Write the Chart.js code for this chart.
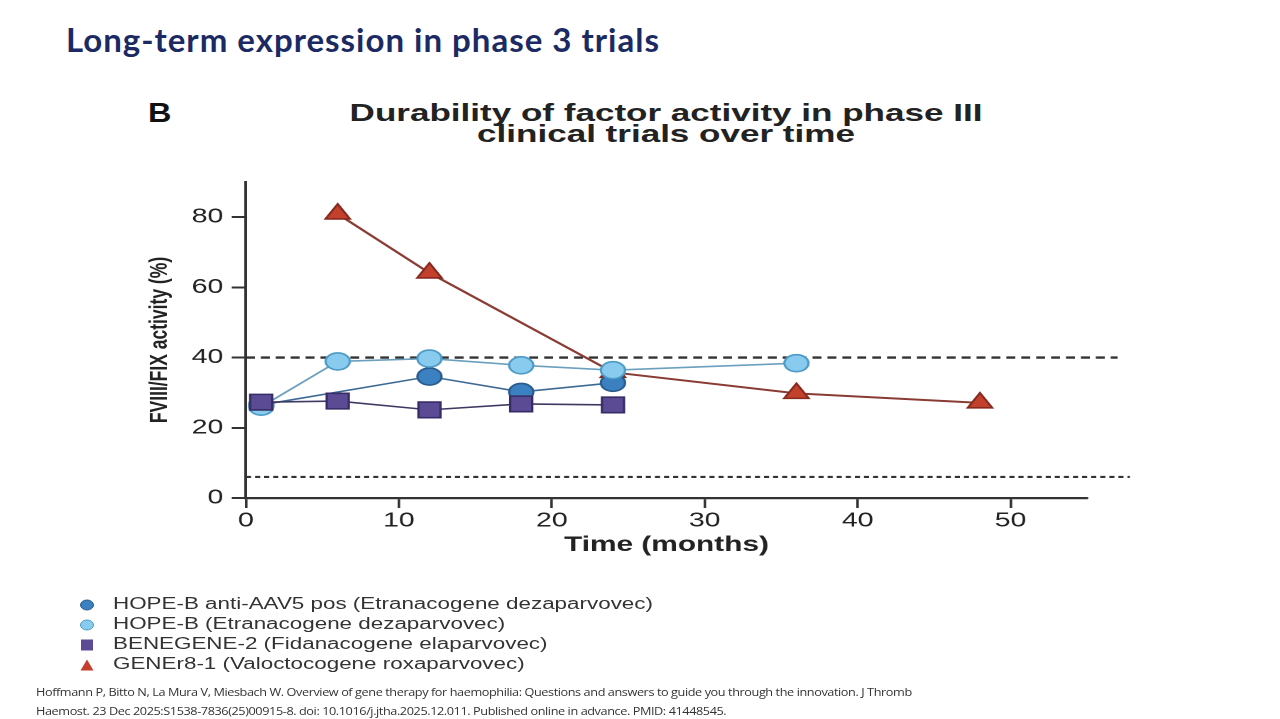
<!DOCTYPE html>
<html>
<head>
<meta charset="utf-8">
<script src="https://cdn.jsdelivr.net/npm/chart.js@4"></script>
<style>
  body { margin: 0; width: 1280px; height: 719px; background: #fff; position: relative; overflow: hidden; font-family: "Liberation Sans", Arial, sans-serif; }
  #slideTitle { position: absolute; left: 66px; top: 19px; font-family: Lato, "Open Sans", sans-serif; font-weight: 700; font-size: 33px; letter-spacing: 1px; color: #1b2a63; white-space: nowrap; }
  #panel { position: absolute; left: 148px; top: 100px; font-weight: 700; font-size: 27px; line-height: 27px; color: #111; transform: scaleX(1.2); transform-origin: left top; }
  #chartTitle { position: absolute; left: 0; width: 1332px; top: 102px; text-align: center; font-weight: 700; font-size: 24px; line-height: 21px; color: #222; transform: scaleX(1.46); transform-origin: 666px 0; }
  /* the source figure is stretched sideways, so the canvas is too */
  #wrap { position: absolute; left: 0; top: 0; width: 901px; height: 719px; transform: scaleX(1.42); transform-origin: left top; }
  #legend { position: absolute; left: 0; top: 593px; font-size: 16px; color: #333; }
  #legend .row { position: relative; height: 20px; width: 700px; }
  #legend .m { position: absolute; left: 80px; top: 4px; }
  #legend .t { position: absolute; left: 113px; top: 1px; line-height: 20px; white-space: nowrap; transform: scaleX(1.4); transform-origin: left top; }
  #cite { position: absolute; left: 36px; top: 683px; font-family: "Open Sans", sans-serif; font-size: 10.5px; line-height: 19px; color: #333; letter-spacing: -0.35px; white-space: nowrap; transform: scaleX(1.21); transform-origin: left top; }
</style>
</head>
<body>
<div id="slideTitle">Long-term expression in phase 3 trials</div>
<div id="panel">B</div>
<div id="chartTitle">Durability of factor activity in phase III<br>clinical trials over time</div>
<div id="wrap"><canvas id="durChart"></canvas></div>
<div id="legend"></div>
<div id="cite">Hoffmann P, Bitto N, La Mura V, Miesbach W. Overview of gene therapy for haemophilia: Questions and answers to guide you through the innovation. J Thromb<br>Haemost. 23 Dec 2025:S1538-7836(25)00915-8. doi: 10.1016/j.jtha.2025.12.011. Published online in advance. PMID: 41448545.</div>
<script>
// months and factor activity (%)
const seriesNames = [
  'HOPE-B anti-AAV5 pos (Etranacogene dezaparvovec)',
  'HOPE-B (Etranacogene dezaparvovec)',
  'BENEGENE-2 (Fidanacogene elaparvovec)',
  'GENEr8-1 (Valoctocogene roxaparvovec)'
];
const hopeAavMonths = [1, 12, 18, 24];
const hopeAavValues = [26.5, 34.6, 30.2, 32.8];
const hopeMonths = [1, 6, 12, 18, 24, 36];
const hopeValues = [26, 38.9, 39.7, 37.8, 36.4, 38.4];
const beneMonths = [1, 6, 12, 18, 24];
const beneValues = [27.3, 27.6, 25.1, 26.8, 26.5];
const generMonths = [6, 12, 24, 36, 48];
const generValues = [80.9, 64.1, 35.8, 29.8, 27.1];
const refLines = [40, 6];
const yTicks = [0, 20, 40, 60, 80];
const xTicks = [0, 10, 20, 30, 40, 50];

const pts = (xs, ys) => xs.map((x, i) => ({ x: x, y: ys[i] }));

const styles = [
  { fill: '#3b80c0', border: '#2a5b8c', line: '#3d6a93', shape: 'circle', r: 8.5 },
  { fill: '#88cbee', border: '#4d9bc6', line: '#6b9fbe', shape: 'circle', r: 8.5 },
  { fill: '#5b4b94', border: '#372c66', line: '#3d3961', shape: 'rect', r: 11 },
  { fill: '#c2402c', border: '#86291f', line: '#8a3b33', shape: 'triangle', r: 10 }
];
const dataSets = [pts(hopeAavMonths, hopeAavValues), pts(hopeMonths, hopeValues), pts(beneMonths, beneValues), pts(generMonths, generValues)];
const orders = [2, 1, 0, 3];

const refPlugin = {
  id: 'refLines',
  beforeDatasetsDraw(chart) {
    const c = chart.ctx, xs = chart.scales.x, ys = chart.scales.y;
    c.save();
    c.strokeStyle = '#333';
    refLines.forEach((v, i) => {
      const y = ys.getPixelForValue(v);
      c.lineWidth = i === 0 ? 2.4 : 2.2;
      c.setLineDash(i === 0 ? [6.3, 4.2] : [3.6, 2.8]);
      c.beginPath();
      c.moveTo(chart.chartArea.left, y);
      c.lineTo(xs.getPixelForValue(i === 0 ? 57 : 57.8), y);
      c.stroke();
    });
    c.restore();
  }
};

new Chart(document.getElementById('durChart'), {
  type: 'line',
  data: {
    datasets: dataSets.map((d, i) => ({
      label: seriesNames[i],
      data: d,
      order: orders[i],
      borderColor: styles[i].line,
      borderWidth: i === 3 ? 2 : 1.6,
      backgroundColor: styles[i].fill,
      pointBackgroundColor: styles[i].fill,
      pointBorderColor: styles[i].border,
      pointBorderWidth: 1.6,
      pointStyle: styles[i].shape,
      pointRadius: styles[i].r,
      pointHoverRadius: styles[i].r,
      tension: 0
    }))
  },
  options: {
    responsive: true,
    maintainAspectRatio: false,
    animation: false,
    devicePixelRatio: 2,
    layout: { padding: { left: 102, right: 135.5, top: 182, bottom: 161 } },
    plugins: { legend: { display: false }, tooltip: { enabled: false } },
    scales: {
      x: {
        type: 'linear',
        min: 0,
        max: 55,
        afterBuildTicks: s => { s.ticks = xTicks.map(v => ({ value: v })); },
        afterFit: s => { s.height = 60; },
        grid: { display: true, drawOnChartArea: false, drawTicks: true, tickLength: 10, color: '#333', lineWidth: 1.8 },
        border: { display: true, color: '#333', width: 2.2 },
        ticks: { color: '#222', padding: 1, font: { family: 'Liberation Sans', size: 20 } },
        title: { display: true, text: 'Time (months)', color: '#222', padding: 0, font: { family: 'Liberation Sans', size: 21, weight: 'bold' } }
      },
      y: {
        min: 0,
        max: 90,
        afterBuildTicks: s => { s.ticks = yTicks.map(v => ({ value: v })); },
        afterFit: s => { s.width = 71.2; },
        grid: { display: true, drawOnChartArea: false, drawTicks: true, tickLength: 10, color: '#333', lineWidth: 2 },
        border: { display: true, color: '#333', width: 2 },
        ticks: { color: '#222', padding: 6, font: { family: 'Liberation Sans', size: 20 } },
        title: { display: true, text: 'FVIII/FIX activity (%)', color: '#222', padding: 0, font: { family: 'Liberation Sans', size: 17.5, weight: 'bold' } }
      }
    }
  },
  plugins: [refPlugin]
});

// legend below the plot
const legendEl = document.getElementById('legend');
seriesNames.forEach((name, i) => {
  const st = styles[i];
  let mark;
  if (st.shape === 'circle') mark = '<svg width="14" height="12"><ellipse cx="7" cy="6" rx="6.5" ry="5" fill="' + st.fill + '" stroke="' + st.border + '" stroke-width="1"/></svg>';
  else if (st.shape === 'rect') mark = '<svg width="14" height="12"><rect x="1" y="0.5" width="12" height="11" fill="' + st.fill + '"/></svg>';
  else mark = '<svg width="14" height="12"><polygon points="7,0.5 13.5,11.5 0.5,11.5" fill="' + st.fill + '"/></svg>';
  const row = document.createElement('div');
  row.className = 'row';
  row.innerHTML = '<span class="m">' + mark + '</span><span class="t">' + name + '</span>';
  legendEl.appendChild(row);
});
</script>
</body>
</html>
